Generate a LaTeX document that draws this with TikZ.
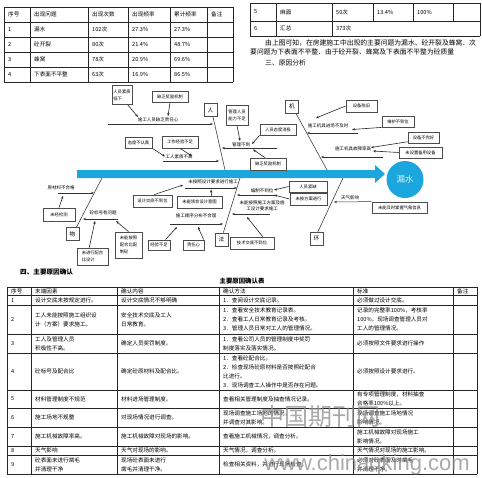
\documentclass[tikz,border=0pt]{standalone}
\usepackage{fontspec}
\setmainfont{Noto Sans CJK SC}
\newfontfamily\wmfont{Liberation Sans}
\usetikzlibrary{arrows.meta,positioning}
\definecolor{spineblue}{RGB}{28,166,222}

\begin{document}
\begin{tikzpicture}[
  x=1pt, y=-1pt,
  >={Stealth[length=3pt,width=2.4pt]},
  tabtxt/.style={anchor=west, inner sep=0pt, align=left, font=\fontsize{5.6}{9}\selectfont},
  paratxt/.style={anchor=west, inner sep=0pt, font=\fontsize{6.8}{8}\selectfont},
  rule/.style={draw=black!85, line width=0.7pt},
  catbox/.style={rectangle, draw=black!70, line width=0.8pt, fill=white,
                 minimum width=13pt, minimum height=13pt, inner sep=0pt,
                 font=\fontsize{5.6}{6}\selectfont},
  cause/.style={rectangle, draw=black!70, line width=0.8pt, fill=white,
                align=center, inner sep=1pt, font=\fontsize{4.3}{7}\selectfont},
  lbl/.style={inner sep=0.5pt, align=center, font=\fontsize{4.5}{6.5}\selectfont},
  bone/.style={draw=black!75, line width=0.6pt},
  rib/.style={->, draw=black!80, line width=0.5pt},
  feed/.style={->, draw=black!85, line width=0.6pt},
]
\useasboundingbox (0,0) rectangle (482,477);

% frequency table, rows 1-4
\foreach \x in {4,30,88,128,170,207,233} \draw[rule] (\x,7) -- (\x,82);
\foreach \y in {7,22,37,52,67,82} \draw[rule] (4,\y) -- (233,\y);
\foreach \y/\n/\a/\b/\c/\d [count=\i] in {14.5/序号/出现问题/出现次数/出现频率/累计频率,
    29.5/1/漏水/102次/27.3\%/27.3\%, 44.5/2/砼开裂/80次/21.4\%/48.7\%,
    59.5/3/蜂窝/78次/20.9\%/69.6\%, 74.5/4/下表面不平整/63次/16.9\%/86.5\%}{
  \node[tabtxt] (fq\i-n) at (8,\y)   {\n};
  \node[tabtxt] (fq\i-a) at (34,\y)  {\a};
  \node[tabtxt] (fq\i-b) at (92,\y)  {\b};
  \node[tabtxt] (fq\i-c) at (132,\y) {\c};
  \node[tabtxt] (fq\i-d) at (174,\y) {\d};
}
\node[tabtxt] (fqnote) at (211,14.5) {备注};

% frequency table, rows 5-6
\foreach \x in {250,276,332,480} \draw[rule] (\x,3) -- (\x,36);
\foreach \x in {373,413,453} \draw[rule] (\x,3) -- (\x,21);
\foreach \y in {3,21,36} \draw[rule] (250,\y) -- (480,\y);
\node[tabtxt] (fq5-n) at (254,12) {5};
\node[tabtxt] (fq5-a) at (280,12) {麻面};
\node[tabtxt] (fq5-b) at (336,12) {50次};
\node[tabtxt] (fq5-c) at (377,12) {13.4\%};
\node[tabtxt] (fq5-d) at (417,12) {100\%};
\node[tabtxt] (fq6-n) at (254,28.5) {6};
\node[tabtxt] (fq6-a) at (280,28.5) {汇总};
\node[tabtxt] (fq6-b) at (336,28.5) {373次};

\node[paratxt] (para1) at (265,43) {由上图可知，在房建施工中出现的主要问题为漏水、砼开裂及蜂窝．次};
\node[paratxt] (para2) at (250,52) {要问题为下表面不平整．由于砼开裂、蜂窝及下表面不平整为砼质量};
\node[paratxt] (para3) at (265,63) {三、原因分析};

% fishbone: spine and head
\fill[spineblue] (77,170) -- (375,170) -- (375,165) -- (385,174) -- (375,183)
  -- (375,178) -- (77,178) -- cycle;
\node[circle, fill=spineblue, minimum size=37pt, inner sep=0pt,
      font=\fontsize{8.5}{9}\selectfont, text=white!85!spineblue] (leak) at (405,179.5) {漏水};

\node[catbox] (man)      at (210.5,110) {人};
\node[catbox] (machine)  at (292,106.5) {机};
\node[catbox] (material) at (72.5,234)  {物};
\node[catbox] (method)   at (221.5,239.5) {法};
\node[catbox] (environ)  at (316.5,239) {环};

\coordinate (manEnd)      at (225,170);
\coordinate (machineEnd)  at (327,170);
\coordinate (materialEnd) at (102,178);
\coordinate (methodEnd)   at (240,178);
\coordinate (environEnd)  at (343,178);
\draw[bone] (man.-70) -- (manEnd);
\draw[bone] (machine.-60) -- (machineEnd);
\draw[bone] (material.60) -- (materialEnd);
\draw[bone] (method.75) -- (methodEnd);
\draw[bone] (environ.80) -- (environEnd);

% ribs: tail, tip, label
\foreach \nm/\tx/\ty/\hx/\hy/\lx/\ly/\txt in {
    duty/108/124/213/124/158/119.5/施工人员缺乏责任心,
    skill/163/161/219/161/179/157/工人素质不高,
    manage/277/148/222/148/241/144.5/管理不到,
    arrive/358/133/307/133/328/126/施工机具进场不及时,
    fault/383/157/321/157/353/149/施工机具故障率高,
    rawmat/58/193/94/193/61/187.5/原材料不合格,
    grade/118/219/83/219/103/212.5/砼标号有问题,
    design/185/188/237/188/213/181.5/未按照设计要求进行施工,
    order/170/224/223/224/196/216/施工顺序分布不合理,
    prep/276/195/237/195/262/190.5/编制不到位,
    scheme/270/214/232/214/262/206/{未能按照施工方案及施\\工设计要求施工}}{
  \coordinate (\nm Tail) at (\tx,\ty);
  \coordinate (\nm Tip) at (\hx,\hy);
  \draw[rib] (\nm Tail) -- (\nm Tip);
  \node[lbl] (\nm Lbl) at (\lx,\ly) {\txt};
}

% cause boxes
\node[cause, align=left, minimum width=20pt, minimum height=19pt] (lowQual)   at (122,95)    {人员素质\\低下};
\node[cause, minimum width=36pt, minimum height=11pt] (rewardA)   at (170,96.5)  {缺乏奖励机制};
\node[cause, minimum width=27pt, minimum height=11pt] (careless)  at (138.5,142.5) {态度不认真};
\node[cause, minimum width=36pt, minimum height=12pt] (inexpA)    at (180,142)   {工作经验不足};
\node[cause, align=left, minimum width=22pt, minimum height=20pt] (mgrWeak)   at (237,115)   {管理人员\\能力不足};
\node[cause, minimum width=36pt, minimum height=11pt] (attitude)  at (278,129.5) {人员态度消极};
\node[cause, minimum width=36pt, minimum height=12pt] (rewardB)   at (268,164)   {缺乏奖励机制};
\node[cause, minimum width=31pt, minimum height=12pt] (oldEq)     at (361.5,106) {设备陈旧};
\node[cause, minimum width=32pt, minimum height=11pt] (maint)     at (398,121.5) {维护不到位};
\node[cause, minimum width=31pt, minimum height=11pt] (faulty)    at (423.5,137.5) {设备不完好};
\node[cause, minimum width=43pt, minimum height=11pt] (spare)     at (420.5,152.5) {未设置备用设备};
\node[cause, minimum width=32pt, minimum height=13pt] (untested)  at (59,214.5)  {未经检测};
\node[cause, align=left, minimum width=31pt, minimum height=17pt] (noMix)     at (92.5,256.5) {未进行配合\\比设计};
\node[cause, align=left, minimum width=27pt, minimum height=26pt] (badMix)    at (128.5,245) {未能按照\\配合比配\\制砼};
\node[cause, minimum width=39pt, minimum height=12pt] (brief)     at (152.5,201) {设计交底不到位};
\node[cause, minimum width=45pt, minimum height=12pt] (intent)    at (199.5,202) {未能领会设计意图};
\node[cause, minimum width=22pt, minimum height=10pt] (inexpB)    at (159,245)   {经验不足};
\node[cause, minimum width=21pt, minimum height=10pt] (dutyB)     at (193.5,245) {责任心};
\node[cause, minimum width=38pt, minimum height=11pt] (shortStaff) at (308,186.5) {人员紧缺};
\node[cause, minimum width=37pt, minimum height=12pt] (noPlan)    at (308.5,199) {未按方案进行};
\node[cause, minimum width=44pt, minimum height=12pt] (techBrief) at (252,243)   {技术交底不到位};
\node[cause, minimum width=55pt, minimum height=11pt] (meteo)     at (399.5,207.5) {未能及时掌握气象信息};

\coordinate (meteoTip) at (334,202);
\draw[rib] (meteo.north west) -- (meteoTip);
\node[lbl] (meteoLbl) at (350,198) {天气影响};

% arrows from causes
\draw[feed] (lowQual.-60) -- (138,117);
\draw[feed] (rewardA.south) -- (168,116);
\draw[feed] (careless.south east) -- (165,156.5);
\draw[feed] (inexpA.south) -- (192,156);
\draw[feed] (mgrWeak.south) -- (240,141);
\draw[feed] (attitude.south west) -- (252,144);
\draw[feed] (rewardB.115) -- (253,149.5);
\draw[feed] (oldEq.west) -- (316,118);
\draw[feed] (maint.south west) -- (352,129.5);
\draw[feed] (faulty.195) -- (371,147.5);
\draw[feed] (spare.west) -- (373,151);
\draw[feed] (untested.north) -- (63,196);
\draw[feed] (noMix.110) -- (95,221);
\draw[feed] (badMix.north) -- (116,221);
\draw[feed] (brief.75) -- (183,185);
\draw[feed] (intent.28) -- (211,189.5);
\draw[feed] (inexpB.40) -- (177,227);
\draw[feed] (dutyB.28) -- (198,227);
\draw[feed] (shortStaff.west) -- (274,190);
\draw[feed] (noPlan.west) -- (274,195);
\draw[feed] (techBrief.31) -- (247,217);

% cause confirmation table
\node[paratxt, font=\fontsize{6.6}{8}\selectfont\bfseries] (sec4) at (20,272) {四、主要原因确认};
\node[inner sep=0pt, font=\fontsize{6.4}{8}\selectfont\bfseries] (tabTitle) at (242,281) {主要原因确认表};
\foreach \x in {7,31,117,219,353,453,477} \draw[rule] (\x,287) -- (\x,474);
\foreach \y in {287,295,305,334,353,390,408,427,446,455,474} \draw[rule] (7,\y) -- (477,\y);
\foreach \y/\n/\a/\b/\c/\d [count=\i] in {
  291/序号/末端因素/确认内容/确认方法/标准,
  300/1/设计交底未按规定进行。/设计交底情况不够明确/1．查阅设计交底记录。/必须做过设计交底。,
  319.5/2/{工人未能按照施工组织设\\计（方案）要求施工。}/{安全技术交底及工人\\日常教育。}/{1．查看安全技术教育记录表。\\2．查看工人日常教育记录及考核。\\3．管理人员日常对工人的管理情况。}/{记录的完整率100\%，考核率\\100\%，现场调查管理人员对\\工人的管理情况。},
  343.5/3/{工人及管理人员\\积极性不高。}/确定人员奖罚制度。/{1．查看公司人员的管理制度中奖罚\\制度落实及落实情况。}/必须按照文件要求进行操作,
  371.5/4/砼标号及配合比/确定砼原材料及配合比。/{1．查看砼配合比。\\2．检查现场砼原材料是否按照砼配合\\比进行。\\3．现场调查工人操作中是否存在问题。}/必须按照设计要求进行。,
  399/5/材料管理制度不规范/材料进场管理制度。/查看相关管理制度及抽查情况记录。/{有专项管理制度，材料抽查\\合格率100\%以上。},
  417.5/6/施工场地不规整/对现场情况进行调查。/{现场调查施工场地的情况，\\并调查对其影响。}/{现场调查施工场地情况\\影响情况。},
  436.5/7/施工机械故障率高。/施工机械故障对现场的影响。/查看施工机械情况，调查分析。/{施工机械故障对现场施工\\影响情况。},
  450.5/8/天气影响/天气对现场的影响。/天气情况，调查分析。/天气情况对现场的施工影响。,
  464.5/9/{砼表面未进行凿毛\\并清理干净}/{现场砼表面未进行\\凿毛并清理干净。}/检查相关资料，并进行现场检查。/{必须对砼表面及时凿毛\\并清理干净。}}{
  \node[tabtxt] (cf\i-n) at (11,\y)  {\n};
  \node[tabtxt] (cf\i-a) at (35,\y)  {\a};
  \node[tabtxt] (cf\i-b) at (121,\y) {\b};
  \node[tabtxt] (cf\i-c) at (223,\y) {\c};
  \node[tabtxt] (cf\i-d) at (357,\y) {\d};
}
\node[tabtxt] (cfnote) at (457,291) {备注};

% watermark
\node[inner sep=0pt, text=black!45, opacity=0.75, font=\fontsize{24}{24}\selectfont] (wmCn) at (320,416) {中国期刊网};
\node[inner sep=0pt, text=black!45, opacity=0.75, font=\wmfont\fontsize{22}{22}\selectfont] (wmUrl) at (367,465) {www.chinaqking.com};

\end{tikzpicture}
\end{document}
